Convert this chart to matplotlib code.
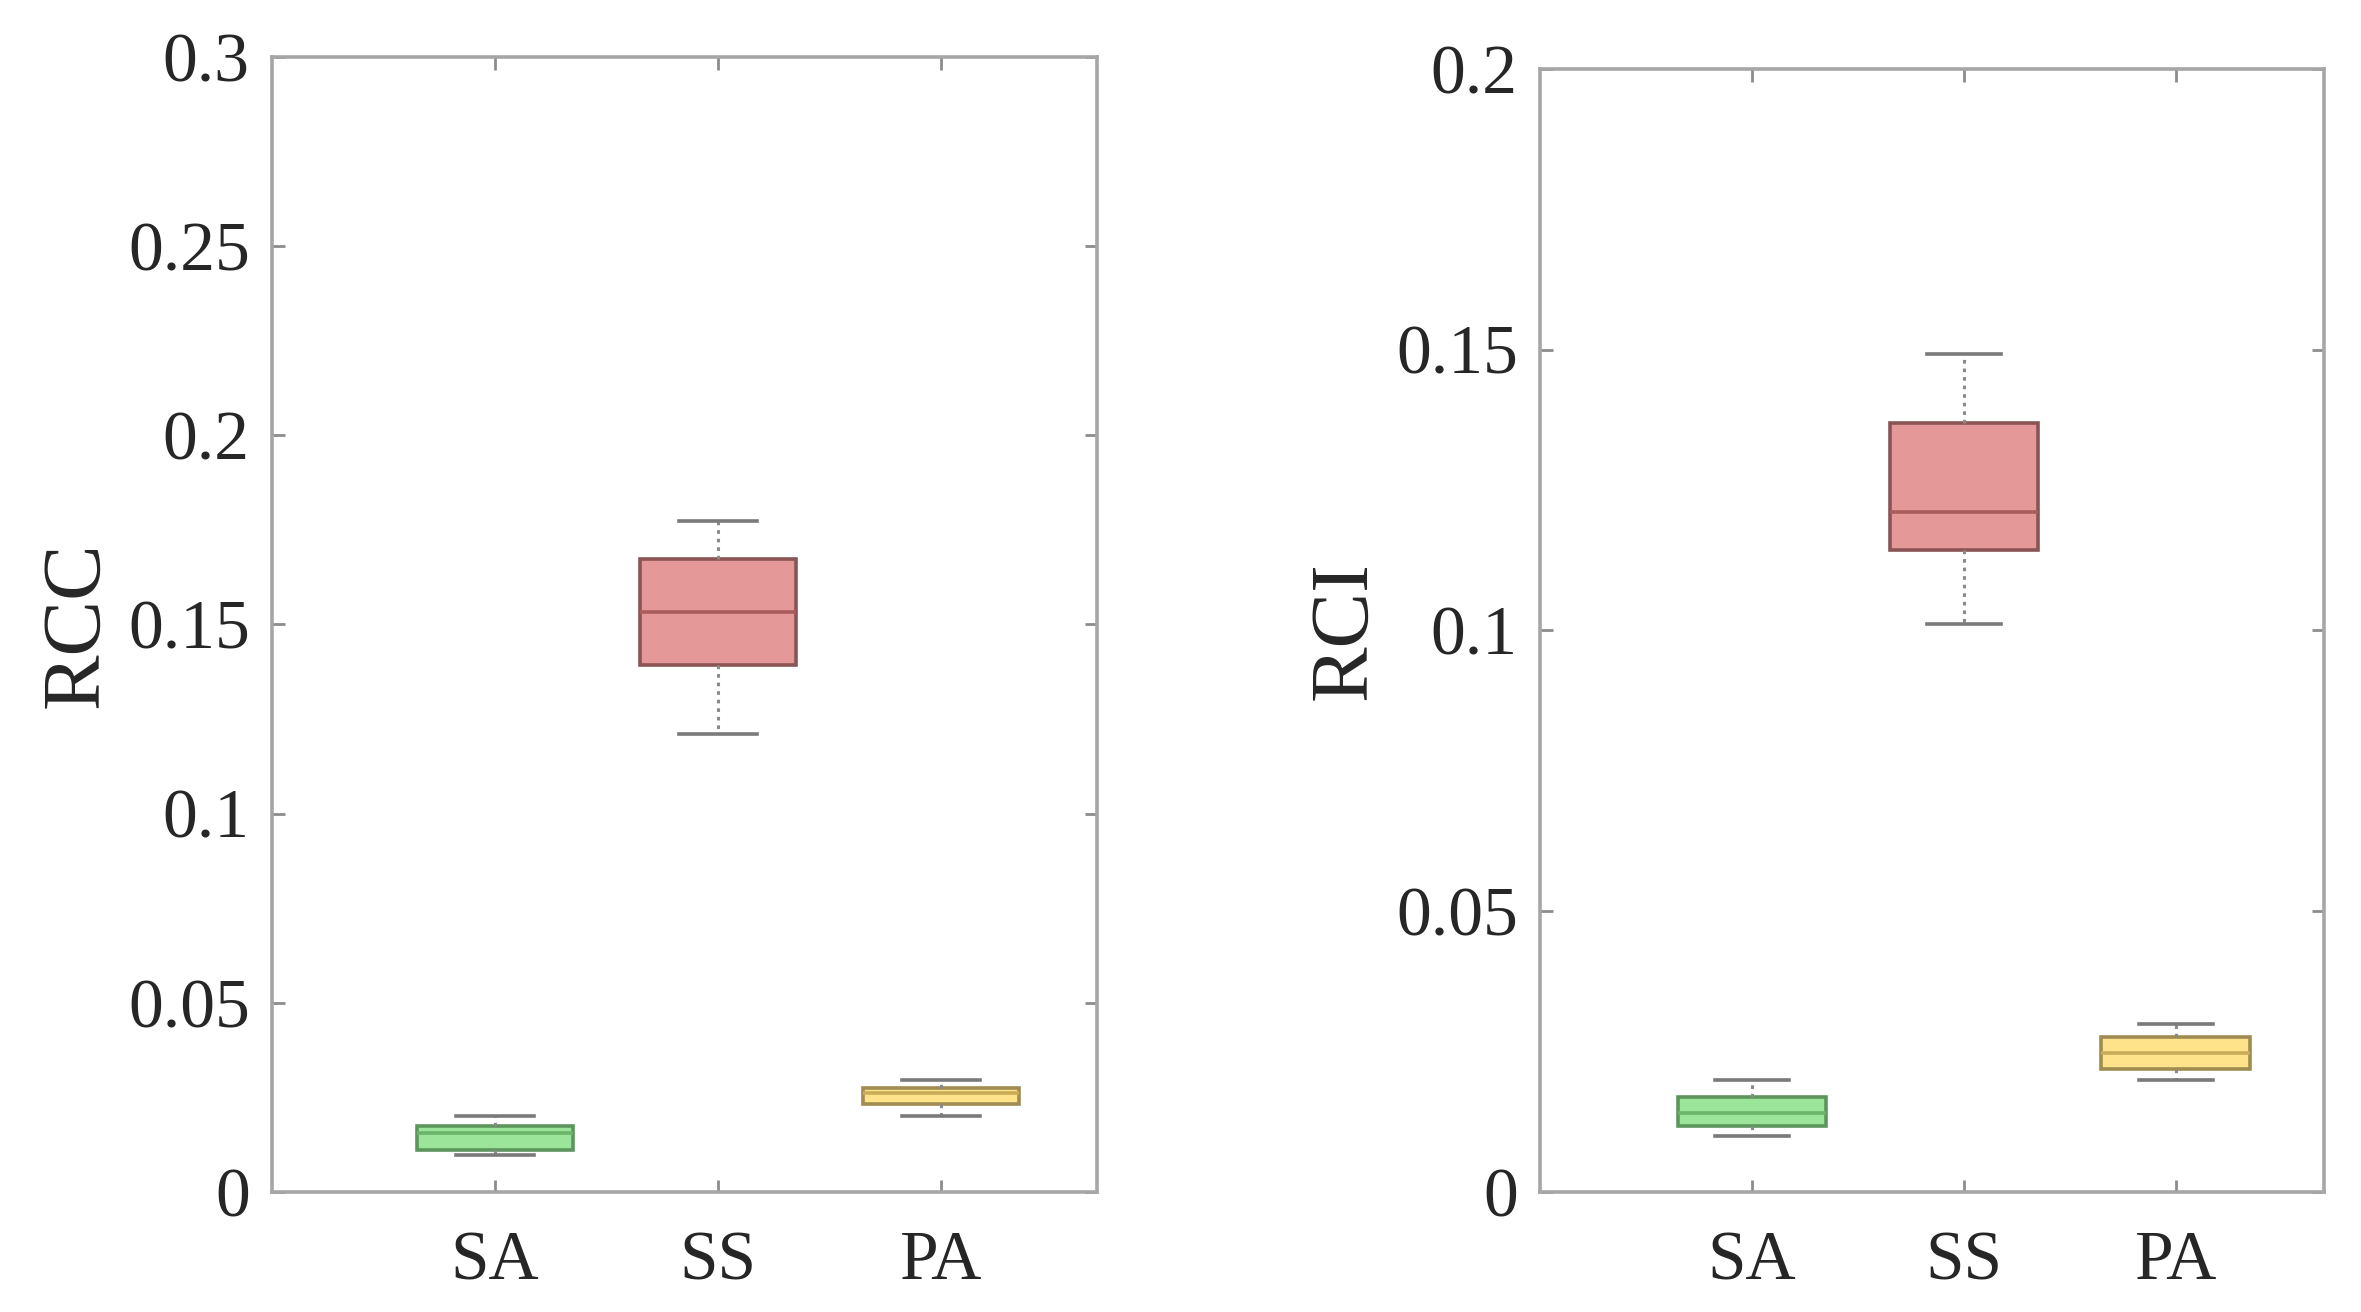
import matplotlib
matplotlib.use("Agg")
import matplotlib.pyplot as plt

plt.rcParams["font.family"] = ["Liberation Serif", "DejaVu Serif"]

groups = ["SA", "SS", "PA"]
box_colors = ["#9be59b", "#e49898", "#fee38a"]
edge_colors = ["#5d955d", "#8a5454", "#a08c50"]
median_colors = ["#6bb56b", "#a85c5c", "#c9ad5a"]

# RCC panel: lower whisker, q1, median, q3, upper whisker
rcc_whislo = [0.0097, 0.1211, 0.0201]
rcc_q1 = [0.0110, 0.1394, 0.0233]
rcc_med = [0.0155, 0.1534, 0.0262]
rcc_q3 = [0.0174, 0.1673, 0.0275]
rcc_whishi = [0.0202, 0.1773, 0.0297]

# RCI panel
rci_whislo = [0.0100, 0.1012, 0.0199]
rci_q1 = [0.0118, 0.1144, 0.0219]
rci_med = [0.0140, 0.1211, 0.0248]
rci_q3 = [0.0169, 0.1369, 0.0276]
rci_whishi = [0.0199, 0.1493, 0.0300]

rcc_ticks = [0, 0.05, 0.1, 0.15, 0.2, 0.25, 0.3]
rcc_ticklabels = ["0", "0.05", "0.1", "0.15", "0.2", "0.25", "0.3"]
rci_ticks = [0, 0.05, 0.1, 0.15, 0.2]
rci_ticklabels = ["0", "0.05", "0.1", "0.15", "0.2"]


def draw_panel(ax, whislo, q1, med, q3, whishi, ylabel, ylim, ticks, ticklabels, labelpad):
    stats = []
    for i, g in enumerate(groups):
        stats.append(dict(label=g, whislo=whislo[i], q1=q1[i], med=med[i],
                          q3=q3[i], whishi=whishi[i], fliers=[]))
    bp = ax.bxp(stats, positions=[1, 2, 3], widths=0.7, patch_artist=True,
                showfliers=False, manage_ticks=False,
                whiskerprops=dict(color="#8a8a8a", linestyle=(0, (1.2, 1.6)), linewidth=2.2),
                capprops=dict(color="#7a7a7a", linewidth=2.6),
                capwidths=0.35)
    for i, box in enumerate(bp["boxes"]):
        box.set_facecolor(box_colors[i])
        box.set_edgecolor(edge_colors[i])
        box.set_linewidth(2.6)
    for i, m in enumerate(bp["medians"]):
        m.set_color(median_colors[i])
        m.set_linewidth(2.6)

    ax.set_xlim(0, 3.7)
    ax.set_ylim(*ylim)
    ax.set_xticks([1, 2, 3])
    ax.set_xticklabels(groups)
    ax.set_yticks(ticks)
    ax.set_yticklabels(ticklabels)
    ax.set_ylabel(ylabel, fontsize=60, color="#262626", labelpad=labelpad)

    for s in ax.spines.values():
        s.set_color("#a6a6a6")
        s.set_linewidth(2.6)
    ax.tick_params(axis="both", direction="in", top=True, right=True,
                   length=9, width=2.0, color="#8c8c8c",
                   labelsize=50, labelcolor="#262626")
    ax.tick_params(axis="y", pad=16)
    ax.tick_params(axis="x", pad=28)


fig = plt.figure(figsize=(23.61, 13.12), dpi=100)
ax1 = fig.add_axes([0.1152, 0.0915, 0.3494, 0.8651])
ax2 = fig.add_axes([0.6523, 0.0915, 0.3320, 0.8559])

draw_panel(ax1, rcc_whislo, rcc_q1, rcc_med, rcc_q3, rcc_whishi, "RCC",
           (0, 0.3), rcc_ticks, rcc_ticklabels, 9)
draw_panel(ax2, rci_whislo, rci_q1, rci_med, rci_q3, rci_whishi, "RCI",
           (0, 0.2), rci_ticks, rci_ticklabels, 9)

fig.savefig("out.png", dpi=100, facecolor="white")
